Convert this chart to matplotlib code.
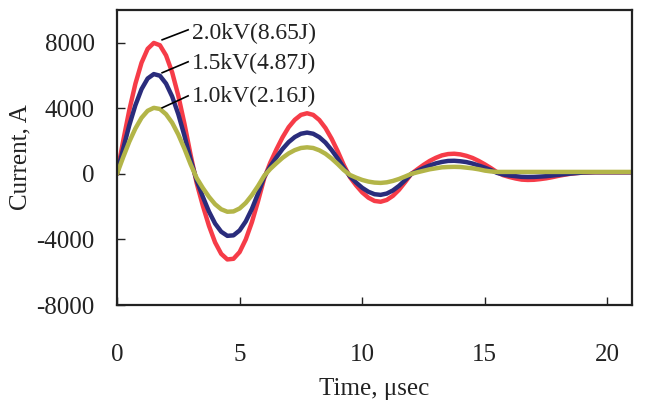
import matplotlib.pyplot as plt

# sample times, usec (0 to 21 every 0.25)
time_us = [i * 0.25 for i in range(85)]

# current, A
i_20kv = [0, 2000, 3880, 5500, 6780, 7630, 7990, 7850, 7230, 6190, 4770, 3060, 1170,
          -570, -1940, -3170, -4180, -4880, -5220, -5180, -4770, -4000, -2950, -1670, -280,
          680, 1490, 2230, 2850, 3300, 3600, 3700, 3600, 3290, 2800, 2150, 1380, 530,
          -200, -700, -1130, -1450, -1650, -1700, -1590, -1340, -970, -500, 0,
          280, 550, 790, 980, 1130, 1210, 1230, 1190, 1100, 970, 790, 580, 350, 100,
          -80, -190, -280, -350, -370, -360, -320, -270, -200, -120, -50, 10, 50, 80, 90, 100,
          100, 100, 100, 100, 100, 100]
i_15kv = [0, 1525, 2960, 4190, 5170, 5820, 6090, 5990, 5510, 4720, 3640, 2330, 890,
          -410, -1400, -2300, -3030, -3530, -3780, -3750, -3450, -2900, -2140, -1210, -200,
          460, 1010, 1520, 1940, 2250, 2450, 2520, 2450, 2240, 1910, 1460, 940, 360,
          -150, -530, -850, -1090, -1240, -1280, -1200, -1010, -730, -380, 0,
          180, 360, 510, 640, 730, 790, 800, 770, 720, 630, 510, 380, 230, 60,
          -40, -100, -140, -180, -190, -185, -165, -140, -100, -60, -20, 20, 50, 80, 90, 100,
          100, 100, 100, 100, 100, 100]
i_10kv = [0, 1010, 1960, 2770, 3420, 3850, 4030, 3960, 3640, 3120, 2400, 1540, 590,
          -250, -860, -1400, -1850, -2160, -2310, -2290, -2110, -1770, -1300, -740, -120,
          300, 650, 980, 1250, 1450, 1580, 1620, 1580, 1440, 1230, 940, 600, 230,
          -65, -230, -370, -470, -530, -550, -515, -430, -310, -160, 0,
          100, 190, 280, 340, 400, 420, 430, 420, 380, 340, 280, 200, 150, 120,
          120, 120, 120, 120, 120, 120, 120, 120, 120, 120, 120, 120, 120, 120, 120, 120,
          120, 120, 120, 120, 120, 120]

labels = ["2.0kV(8.65J)", "1.5kV(4.87J)", "1.0kV(2.16J)"]
colors = ["#f63c48", "#2a2c7c", "#b3b548"]
# leader line start / end and text anchor (data coords)
line_start = [(1.84, 8180), (1.84, 6170), (1.84, 4030)]
line_end = [(2.9, 8790), (2.9, 6840), (2.9, 4760)]
text_pos = [(3.05, 8550), (3.05, 6720), (3.05, 4700)]

plt.rcParams['font.family'] = ['Liberation Serif', 'DejaVu Serif']
plt.rcParams['axes.unicode_minus'] = False

fig = plt.figure(figsize=(6.48, 4.11), dpi=100)
ax = fig.add_axes([117 / 648, 1 - 305 / 411, (632 - 117) / 648, (305 - 10) / 411])

for series, c in zip([i_20kv, i_15kv, i_10kv], colors):
    ax.plot(time_us, series, color=c, lw=3.2, solid_capstyle='round', solid_joinstyle='round')

for lab, p0, p1, pt in zip(labels, line_start, line_end, text_pos):
    ax.plot([p0[0], p1[0]], [p0[1], p1[1]], color='black', lw=1.2)
    ax.text(pt[0], pt[1], lab, fontsize=17, ha='left', va='center', color='#222222')

ax.set_xlim(0, 21)
ax.set_ylim(-8000, 10000)
ax.set_xticks([0, 5, 10, 15, 20])
ax.set_yticks([-8000, -4000, 0, 4000, 8000])
ax.tick_params(direction='in', length=6, width=1, labelsize=18, colors='#222222')
ax.tick_params(axis='x', pad=28)
ax.tick_params(axis='y', pad=16)
for s in ax.spines.values():
    s.set_linewidth(1.6)
    s.set_color('#222222')

ax.set_xlabel("Time, μsec", fontsize=18, labelpad=9, color='#222222')
ax.set_ylabel("Current, A", fontsize=18, labelpad=4, color='#222222')

fig.savefig("out.png", dpi=100)
